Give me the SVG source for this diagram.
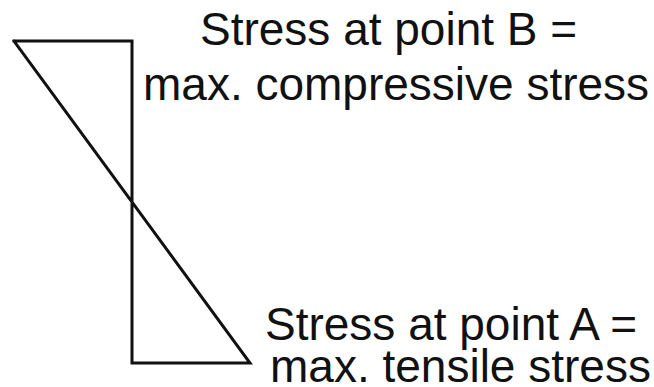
<svg xmlns="http://www.w3.org/2000/svg" width="654" height="387" viewBox="0 0 654 387">
<style>
.ln{fill:none;stroke:#111;stroke-width:3;stroke-linecap:square;stroke-linejoin:miter}
.t{font-family:"Liberation Sans",Arial,sans-serif;font-size:46px;fill:#111}
</style>
<rect width="654" height="387" fill="#fff"/>
<g id="diagram">
<polyline class="ln" points="14,41 132,41 132,363 250,363 14,41"/>
</g>
<g id="label-b">
<text class="t" x="200" y="45">Stress at point B =</text>
<text class="t" x="143" y="100">max. compressive stress</text>
</g>
<g id="label-a">
<text class="t" x="265" y="340">Stress at point A =</text>
<text class="t" x="270" y="382">max. tensile stress</text>
</g>
</svg>
